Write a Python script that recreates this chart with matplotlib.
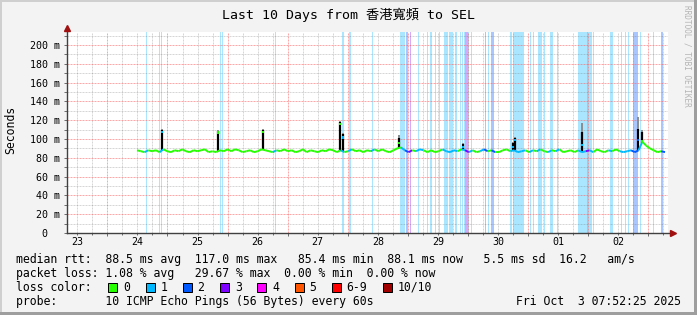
import numpy as np
import matplotlib
matplotlib.use('Agg')
import matplotlib.pyplot as plt
import matplotlib.transforms as mtrans
from matplotlib.collections import LineCollection
from matplotlib.patches import Rectangle
from matplotlib.ticker import MultipleLocator

W, H = 697, 315
MONO = 'DejaVu Sans Mono'

# time in days since Sep 23 00:00, graph ends Oct 3 07:52:25
t_end = 10 + (7 * 3600 + 52 * 60 + 25) / 86400
t_begin = t_end - 10
day_labels = ['23', '24', '25', '26', '27', '28', '29', '30', '01', '02']

# median rtt (ms), evenly spaced from first to last sample
med_first, med_last = 1.493, 10.278
med_v = [88, 87, 86, 88, 87, 88, 86, 89, 87, 86,
         88, 87, 89, 87, 86, 88, 87, 88, 89, 86,
         87, 86, 88, 87, 89, 87, 89, 88, 86, 87,
         88, 86, 87, 89, 88, 87, 86, 88, 87, 89,
         87, 88, 86, 87, 89, 86, 88, 87, 86, 88,
         87, 89, 88, 86, 88, 86, 87, 89, 87, 88,
         86, 88, 87, 89, 87, 89, 87, 86, 88, 90,
         91, 88, 86, 88, 87, 89, 88, 86, 88, 86,
         87, 89, 87, 86, 88, 87, 89, 88, 86, 88,
         86, 87, 89, 87, 88, 86, 86, 88, 89, 87,
         88, 86, 87, 88, 86, 88, 87, 89, 87, 86,
         88, 87, 89, 86, 87, 88, 86, 88, 86, 87,
         88, 86, 89, 87, 86, 88, 87, 89, 87, 86,
         87, 88, 86, 88, 97, 93, 90, 88, 86, 87,
         86]

# packet loss periods (days) and loss class
loss_start = [1.643, 1.859, 1.900, 2.874, 2.915, 3.789, 4.904, 5.020, 5.245, 5.403,
              5.869, 5.969, 6.035, 6.168, 6.227, 6.318, 6.368, 6.451, 6.518, 6.601,
              6.692, 6.792, 6.867, 6.900, 6.934, 6.951, 7.000, 7.050, 7.142, 7.225,
              7.275, 7.333, 7.383, 7.699, 7.749, 8.032, 8.082, 8.165, 8.265, 8.365,
              8.481, 8.706, 8.830, 8.972, 9.080, 9.363, 9.546, 9.613, 9.662, 9.746,
              9.862, 10.078, 10.212]
loss_end = [1.659, 1.875, 1.917, 2.890, 2.932, 3.805, 4.937, 5.054, 5.261, 5.420,
            5.952, 5.994, 6.060, 6.185, 6.243, 6.335, 6.401, 6.468, 6.534, 6.667,
            6.751, 6.817, 6.884, 6.917, 6.951, 7.000, 7.017, 7.067, 7.158, 7.241,
            7.308, 7.350, 7.433, 7.732, 7.932, 8.049, 8.099, 8.232, 8.282, 8.415,
            8.498, 8.722, 9.063, 8.989, 9.097, 9.413, 9.563, 9.629, 9.679, 9.829,
            9.879, 10.095, 10.245]
loss_level = [1, 1, 1, 1, 1, 1, 1, 1, 1, 1,
              1, 2, 3, 1, 1, 1, 1, 1, 1, 1,
              1, 1, 1, 1, 1, 3, 1, 1, 1, 1,
              2, 1, 2, 1, 1, 1, 1, 1, 1, 1,
              1, 1, 1, 3, 1, 1, 1, 1, 1, 2,
              1, 1, 2]

# rtt spikes: time, dark smoke top, light smoke top, median
spike_t = [1.904, 2.846, 3.594, 4.870, 4.920, 5.852, 6.922, 7.754, 7.782, 8.892, 9.834, 9.890]
spike_black = [109.6, 108.5, 109.6, 118.4, 105.0, 100.7, 94.7, 96.0, 100.7, 107.8, 111.0, 107.8]
spike_grey = [110.5, 109.5, 110.5, 119.5, 106.0, 104.0, 95.5, 97.0, 102.0, 116.7, 123.0, 110.0]
spike_med = [109.0, 108.0, 109.0, 117.5, 103.0, 97.0, 93.0, 93.0, 100.0, 95.0, 100.0, 99.0]

loss_colors = ['#26ff00', '#00b8ff', '#0059ff', '#7e00ff', '#ff00ff', '#ff5500', '#ff0000', '#a10000']
loss_names = ['0', '1', '2', '3', '4', '5', '6-9', '10/10']
bar_colors = {1: '#aae6ff', 2: '#aac6ff', 3: '#d2aaff'}

fig = plt.figure(figsize=(W / 100, H / 100), dpi=100, facecolor='#f3f3f3')
ax = fig.add_axes([67 / W, 1 - 233 / H, 601 / W, 201 / H])
ax.set_facecolor('white')
ax.set_xlim(t_begin, t_end)
ax.set_ylim(0, 213.8)
for s in ax.spines.values():
    s.set_visible(False)

# grid + ticks
ax.xaxis.set_major_locator(MultipleLocator(1))
ax.xaxis.set_minor_locator(MultipleLocator(0.25))
ax.yaxis.set_major_locator(MultipleLocator(20))
ax.yaxis.set_minor_locator(MultipleLocator(10))
ax.set_axisbelow('line')
ax.grid(which='minor', color='#5f5f5f', alpha=0.25, lw=0.72, ls=(0, (2, 1)))
ax.grid(which='major', color='#ff5f5f', alpha=0.55, lw=0.72, ls=(0, (2, 1)))
ax.tick_params(which='both', direction='out', width=0.72, color='#707070',
               labelbottom=False, labelleft=False)
ax.tick_params(which='major', length=2.2)
ax.tick_params(which='minor', length=2.2)
ax.tick_params(axis='x', which='minor', length=1.2)

# loss bars
for s, e, l in zip(loss_start, loss_end, loss_level):
    ax.axvspan(s, e, color=bar_colors[l], lw=0, zorder=1, antialiased=False)

# median line coloured by loss
med_t = np.linspace(med_first, med_last, len(med_v))
pts = np.column_stack([med_t, med_v])
segs = np.stack([pts[:-1], pts[1:]], axis=1)


def level_at(a, b):
    lv = 0
    for s, e, l in zip(loss_start, loss_end, loss_level):
        if s < b and e > a:
            lv = max(lv, l)
    return lv


seg_col = []
for a, b in zip(med_t[:-1], med_t[1:]):
    m = 0.5 * (a + b)
    seg_col.append(loss_colors[level_at(m - 0.1 * (b - a), m + 0.1 * (b - a))])
ax.add_collection(LineCollection(segs, colors=seg_col, linewidths=1.4, zorder=4))

# smoke spikes
base = np.interp(spike_t, med_t, med_v)
ax.vlines(spike_t, spike_black, spike_grey, color='#8c8c8c', lw=1.4, zorder=3)
ax.vlines(spike_t, base, spike_black, color='black', lw=1.6, zorder=3)
spike_col = [loss_colors[level_at(t - 0.01, t + 0.01)] for t in spike_t]
ax.vlines(spike_t, np.array(spike_med) - 2.5, spike_med, colors=spike_col, lw=1.4, zorder=5)

# axes with arrows
ax.plot([0, 0], [0, 1.01], transform=ax.transAxes, color='#404040', lw=1, clip_on=False, zorder=6)
ax.plot([0, 1.005], [0, 0], transform=ax.transAxes, color='#404040', lw=1, clip_on=False, zorder=6)
ax.plot([0], [1.022], transform=ax.transAxes, marker='^', ms=4, color='#a01010', clip_on=False, zorder=7)
ax.plot([1.008], [0], transform=ax.transAxes, marker='>', ms=4, color='#a01010', clip_on=False, zorder=7)

# axis labels
ylab_tr = mtrans.blended_transform_factory(fig.transFigure, ax.transData)
for v in range(0, 201, 20):
    lab = '0' if v == 0 else '%d m' % v
    xr = 47.5 if v == 0 else 59.5
    ax.text(xr / W, v, lab, transform=ylab_tr, ha='right', va='center_baseline',
            family=MONO, size=7.2, color='black')
xlab_tr = mtrans.blended_transform_factory(ax.transData, fig.transFigure)
for i, lab in enumerate(day_labels):
    ax.text(i + 0.5, 1 - 245 / H, lab, transform=xlab_tr, ha='center', va='baseline',
            family=MONO, size=7.2, color='black')


def put(x, y, s, **kw):
    kw.setdefault('family', MONO)
    kw.setdefault('va', 'baseline')
    kw.setdefault('size', 8.32)
    fig.text(x / W, 1 - y / H, s, **kw)


put(W / 2, 19.5, 'Last 10 Days from 香港寬頻 to SEL', ha='center', size=9.5,
    family=[MONO, 'Noto Sans CJK TC'])
put(10.5, 130, 'Seconds', rotation=90, ha='center', va='center')
put(687.5, 5, 'RRDTOOL / TOBI OETIKER', rotation=-90, ha='center', va='top',
    size=5.6, color='#b4b4b4')

put(16, 263.5, 'median rtt:  88.5 ms avg  117.0 ms max   85.4 ms min  88.1 ms now   5.5 ms sd  16.2   am/s')
put(16, 277.5, 'packet loss: 1.08 % avg   29.67 % max  0.00 % min  0.00 % now')
put(16, 291, 'loss color:')
put(16, 305, 'probe:       10 ICMP Echo Pings (56 Bytes) every 60s')
put(681.5, 305, 'Fri Oct  3 07:52:25 2025', ha='right')

x = 108.3
for col, name in zip(loss_colors, loss_names):
    fig.add_artist(Rectangle((x / W, 1 - 291.5 / H), 9 / W, 9 / H, transform=fig.transFigure,
                             fc=col, ec='black', lw=0.72))
    put(x + 14.8, 291, name)
    x = x + 14.8 + len(name) * 6.957 + 15.5

# frame
for (x0, y0, w, h, c) in [(0, 0, 2, H, '#cfcfcf'), (0, 0, W, 2, '#cfcfcf'),
                          (W - 3, 0, 3, H, '#9e9e9e'), (0, H - 3, W, 3, '#9e9e9e')]:
    fig.add_artist(Rectangle((x0 / W, 1 - (y0 + h) / H), w / W, h / H,
                             transform=fig.transFigure, fc=c, ec='none'))

fig.savefig('out.png', dpi=100, facecolor=fig.get_facecolor())
